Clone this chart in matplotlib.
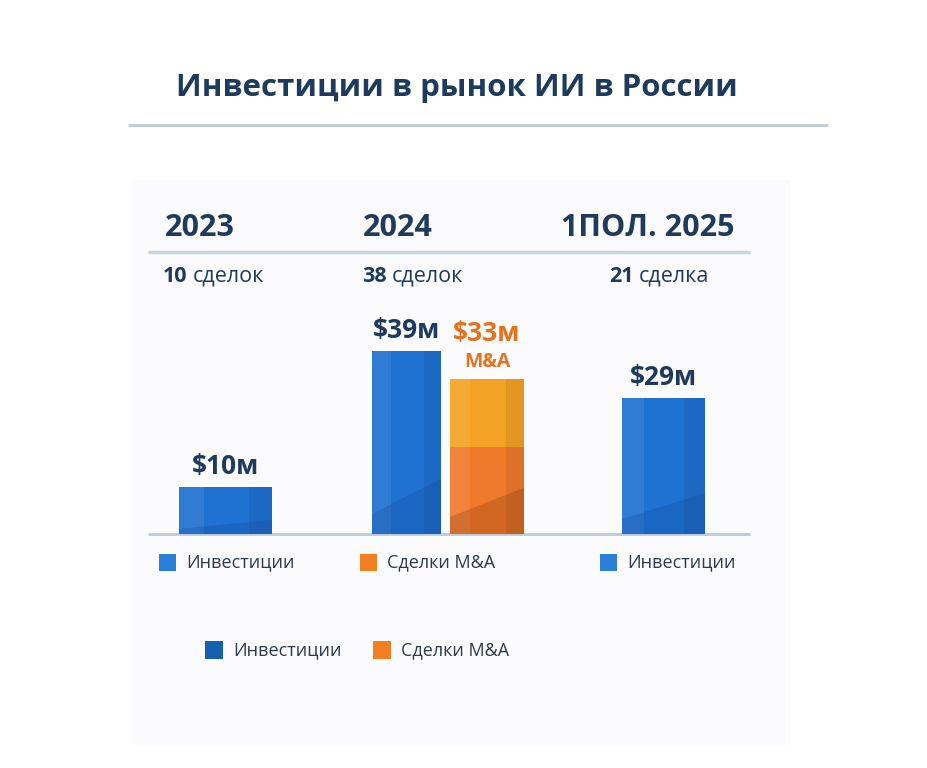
import matplotlib
matplotlib.use("Agg")
import matplotlib.pyplot as plt
from matplotlib.patches import Rectangle, Polygon

# ---------------- data ----------------
years = ["2023", "2024", "1ПОЛ. 2025"]
deal_counts = ["10", "38", "21"]
deal_words = ["сделок", "сделок", "сделка"]
invest_values = [10, 39, 29]          # $M, investments
ma_values = [None, 33, None]          # $M, M&A deals
series_names = ["Инвестиции", "Сделки M&A"]
title = "Инвестиции в рынок ИИ в России"

# ---------------- style ----------------
W, H = 927, 768
NAVY = "#1e3a5c"
TEXT = "#2b3a4f"
BLUE = "#1f71d2"
ORANGE = "#ef7a2c"
ORANGE_TOP = "#f5a325"
ORANGE_TXT = "#e8711c"
LEG_BLUE = "#2a7fd8"
LEG_BLUE_DARK = "#1560b0"
LEG_ORANGE = "#f47f22"
LINE = "#bccbdb"
FAM = ["Open Sans", "DejaVu Sans"]

fig = plt.figure(figsize=(W / 100, H / 100), dpi=100)
fig.patch.set_facecolor("white")

bg = fig.add_axes([0, 0, 1, 1])
bg.set_xlim(0, W)
bg.set_ylim(H, 0)
bg.axis("off")

def txt(x, y, s, **kw):
    kw.setdefault("family", FAM)
    return bg.text(x, y, s, **kw)

# panel
bg.add_patch(Rectangle((133, 180), 657, 565, facecolor="#fbfbfd", edgecolor="none", zorder=0))

# title + rule
txt(457, 88, title, ha="center", va="center", fontsize=22.5, fontweight="bold", color=NAVY)
bg.plot([128, 828], [125, 125], color=LINE, lw=2, solid_capstyle="butt")

# year headers
year_x = [165, 363, 735]
year_ha = ["left", "left", "right"]
for x, ha, y in zip(year_x, year_ha, years):
    txt(x, 228, y, ha=ha, va="center", fontsize=22, fontweight="bold", color=NAVY)
bg.plot([148, 750], [252, 252], color="#c6d3e1", lw=2.5, solid_capstyle="butt")

# deal counts (bold number + word)
fig.canvas.draw()
renderer = fig.canvas.get_renderer()
count_x = [163, 362, 609]
for x, n, w in zip(count_x, deal_counts, deal_words):
    t = txt(x, 276, n, ha="left", va="center", fontsize=15.5, fontweight="bold", color=NAVY)
    bb = t.get_window_extent(renderer)
    x_end = bg.transData.inverted().transform((bb.x1, bb.y0))[0]
    txt(x_end + 5, 276, w, ha="left", va="center", fontsize=15.5, fontweight="medium", color=NAVY)

# ---------------- bars ----------------
base_px, top_px, tall_px = 534, 300, 351
ax = fig.add_axes([148 / W, (H - base_px) / H, (750 - 148) / W, (base_px - top_px) / H])
ax.set_xlim(148, 750)
ymax = max(invest_values) * (base_px - top_px) / (base_px - tall_px)
ax.set_ylim(0, ymax)
ax.axis("off")
ax.patch.set_alpha(0)

inv_pos = [225.5, 406.5, 663.5]
inv_w = [93, 69, 83]
ma_pos = [None, 487, None]
ma_w = [None, 74, None]

def decorate(rect, orange=False):
    x0, w, h = rect.get_x(), rect.get_width(), rect.get_height()
    if orange:
        ax.add_patch(Rectangle((x0, 0.56 * h), w, 0.44 * h, facecolor=ORANGE_TOP, edgecolor="none", zorder=3))
    ax.add_patch(Rectangle((x0, 0), 0.27 * w, h, facecolor="white", alpha=0.08, edgecolor="none", zorder=4))
    ax.add_patch(Rectangle((x0 + 0.75 * w, 0), 0.25 * w, h, facecolor="black", alpha=0.07, edgecolor="none", zorder=4))
    dark = "#5a1f00" if orange else "#0a3a80"
    ax.add_patch(Polygon([(x0, 0), (x0 + w, 0), (x0 + w, 0.30 * h), (x0, 0.11 * h)],
                         closed=True, facecolor=dark, alpha=0.20, edgecolor="none", zorder=5))

for i, v in enumerate(invest_values):
    bars = ax.bar(inv_pos[i], v, width=inv_w[i], color=BLUE, zorder=2)
    decorate(bars[0])
    ax.annotate(f"${v}м", (inv_pos[i], v), xytext=(0, 5), textcoords="offset points",
                ha="center", va="bottom", fontsize=19, fontweight="bold", color=NAVY, family=FAM)

for i, v in enumerate(ma_values):
    if v is None:
        continue
    bars = ax.bar(ma_pos[i], v, width=ma_w[i], color=ORANGE, zorder=2)
    decorate(bars[0], orange=True)
    ax.annotate("M&A", (ma_pos[i], v), xytext=(0, 5), textcoords="offset points",
                ha="center", va="bottom", fontsize=14, fontweight="bold", color=ORANGE_TXT, family=FAM)
    ax.annotate(f"${v}м", (ma_pos[i], v), xytext=(0, 23), textcoords="offset points",
                ha="center", va="bottom", fontsize=19, fontweight="bold", color=ORANGE_TXT, family=FAM)

bg.plot([148, 750], [base_px, base_px], color=LINE, lw=2, solid_capstyle="butt", zorder=1)

# ---------------- legends ----------------
def legend_item(x, y, color, label, size=17):
    bg.add_patch(Rectangle((x, y - size / 2), size, size, facecolor=color, edgecolor="none"))
    txt(x + size + 10, y, label, ha="left", va="center", fontsize=13, color=TEXT)

legend_item(159, 562, LEG_BLUE, series_names[0])
legend_item(360, 562, LEG_ORANGE, series_names[1])
legend_item(600, 562, LEG_BLUE, series_names[0])

legend_item(205, 650, LEG_BLUE_DARK, series_names[0], size=18)
legend_item(373, 650, LEG_ORANGE, series_names[1], size=18)

fig.savefig("out.png", dpi=100, facecolor="white")
